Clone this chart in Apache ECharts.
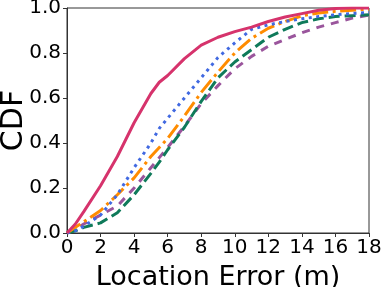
<!DOCTYPE html>
<html><head><meta charset="utf-8">
<script src="https://cdn.jsdelivr.net/npm/echarts@6/dist/echarts.min.js"></script>
<style>html,body{margin:0;padding:0;background:#fff}#c{width:382px;height:287px}</style>
</head><body><div id="c"></div>
<script>
var errX = [0,0.5,1,2,3,4,5,5.5,6,7,8,9,10,11,12,13,14,15,16,17,18];
var cdfRed    = [0,0.04,0.095,0.21,0.34,0.49,0.62,0.67,0.70,0.775,0.835,0.87,0.895,0.915,0.94,0.96,0.975,0.99,0.998,1.0,1.0];
var cdfBlue   = [0,0.01,0.03,0.08,0.17,0.29,0.40,0.465,0.51,0.60,0.69,0.78,0.845,0.905,0.925,0.94,0.952,0.962,0.97,0.976,0.98];
var cdfOrange = [0,0.025,0.05,0.10,0.17,0.245,0.34,0.38,0.42,0.52,0.625,0.715,0.80,0.865,0.91,0.94,0.965,0.978,0.985,0.99,0.995];
var cdfGreen  = [0,0.01,0.025,0.045,0.09,0.17,0.265,0.315,0.37,0.47,0.585,0.69,0.76,0.815,0.87,0.905,0.935,0.952,0.962,0.966,0.97];
var cdfPurple = [0,0.015,0.04,0.08,0.12,0.20,0.29,0.335,0.38,0.475,0.575,0.655,0.73,0.785,0.83,0.86,0.89,0.915,0.935,0.955,0.968];
var xTicks = [0,2,4,6,8,10,12,14,16,18];
var yTicks = [0.0,0.2,0.4,0.6,0.8,1.0];

function pairs(ys){ return errX.map(function(x,i){return [x, ys[i]];}); }
function mk(ys, color, type){
  return {type:'line', data:pairs(ys), showSymbol:false, symbol:'none', smooth:false,
    lineStyle:{color:color, width:3, type:type, cap:'butt'}, itemStyle:{color:color}, animation:false};
}
var chart = echarts.init(document.getElementById('c'), null, {renderer:'canvas'});
var font = 'DejaVu Sans';
chart.setOption({
  animation:false,
  grid:{left:67, right:13, top:8, bottom:54, containLabel:false, outerBoundsMode:'none',
    show:true, borderColor:'#333', borderWidth:1, backgroundColor:'transparent'},
  xAxis:{type:'value', min:0, max:18, interval:2,
    name:'Location Error (m)', nameLocation:'middle', nameGap:31, nameMoveOverlap:false,
    nameTextStyle:{fontFamily:font, fontSize:27, color:'#000'},
    axisLine:{show:true, onZero:false, lineStyle:{color:'#333', width:1}},
    axisTick:{show:true, length:4, inside:false, lineStyle:{color:'#333'}},
    axisLabel:{fontFamily:font, fontSize:20, color:'#000', margin:5,
      formatter:function(v){return xTicks.indexOf(v)>=0 ? String(v) : '';}},
    splitLine:{show:false}},
  yAxis:{type:'value', min:0, max:1, interval:0.2,
    name:'CDF', nameLocation:'middle', nameGap:38, nameRotate:90, nameMoveOverlap:false,
    nameTextStyle:{fontFamily:font, fontSize:30, color:'#000'},
    axisLine:{show:true, onZero:false, lineStyle:{color:'#333', width:1}},
    axisTick:{show:true, length:4, lineStyle:{color:'#333'}},
    axisLabel:{fontFamily:font, fontSize:20, color:'#000', margin:6,
      formatter:function(v){return v.toFixed(1);}},
    splitLine:{show:false}},
  series:[
    mk(cdfPurple,'#9a559c',[8,7]),
    mk(cdfGreen,'#0f7a5a',[11,5]),
    mk(cdfOrange,'#ff8c00',[16,4.5,3,4.5]),
    mk(cdfBlue,'#4169e1',[3,4.5]),
    mk(cdfRed,'#d6336c','solid')
  ]
});
</script></body></html>
